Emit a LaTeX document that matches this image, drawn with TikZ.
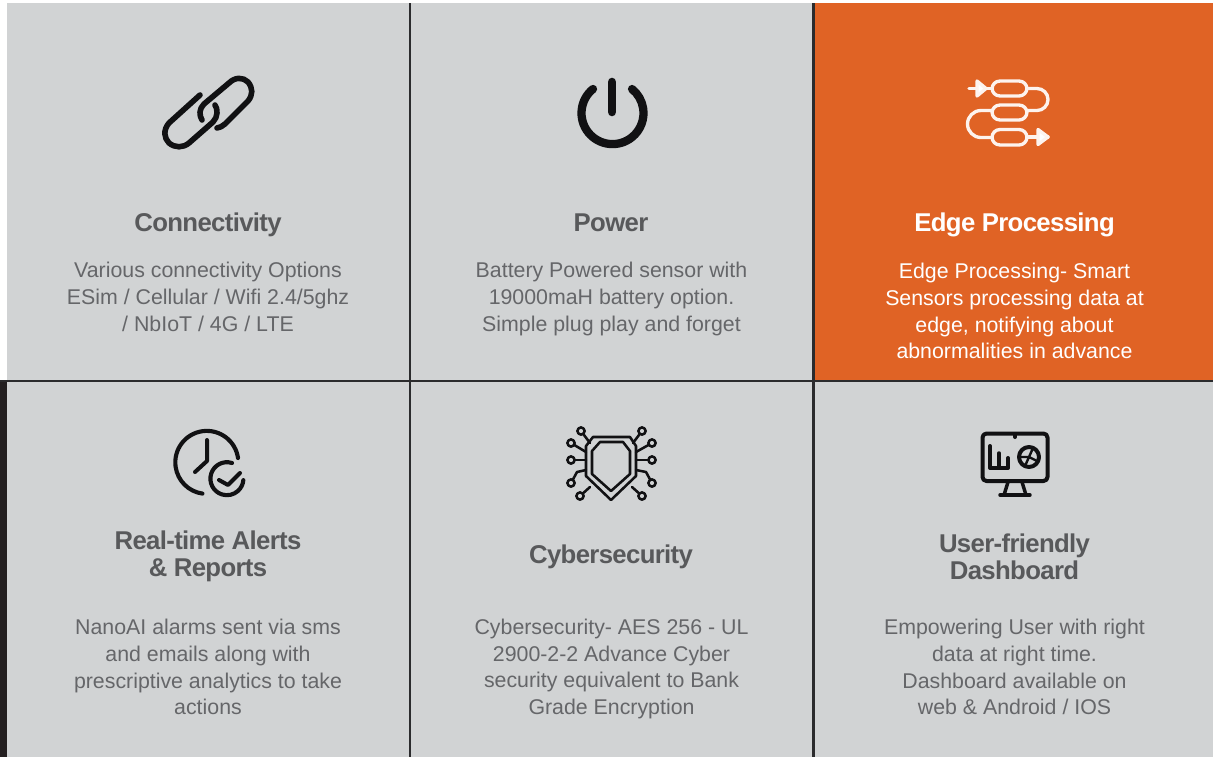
\documentclass[tikz,border=0pt]{standalone}
\usepackage{fontspec}
\setmainfont{Liberation Sans}
\newfontfamily\titlefont[LetterSpace=-2.5]{Liberation Sans Bold}
\definecolor{panel}{HTML}{D1D3D4}
\definecolor{accent}{HTML}{E06325}
\definecolor{rulecol}{HTML}{2B2B2D}
\definecolor{darkbar}{HTML}{231F20}
\definecolor{titlecol}{HTML}{58595B}
\definecolor{bodycol}{HTML}{656669}
\definecolor{iconcol}{HTML}{111113}
\tikzset{
  celltitle/.style={align=center,inner sep=0pt,font=\titlefont\fontsize{19.3}{20.25}\selectfont,text=titlecol},
  cellbody/.style={align=center,inner sep=0pt,font=\fontsize{16}{20.1}\selectfont,text=bodycol},
  iconthick/.style={draw=iconcol,line width=4.2pt,line cap=round,line join=round},
  iconmid/.style={draw=iconcol,line width=3pt,line cap=round,line join=round},
  iconthin/.style={draw=iconcol,line width=1.9pt,line cap=round,line join=round},
  iconwhite/.style={draw=white!92!accent,line width=2.5pt,line cap=round,line join=round},
  divider/.style={draw=rulecol,line width=2.2pt},
}
\begin{document}
\begin{tikzpicture}[x=0.75pt,y=-0.75pt]
\useasboundingbox (0,0) rectangle (1213,757);
\fill[white] (0,0) rectangle (1213,757);
\fill[panel] (7,3) rectangle (1213,757);
\fill[darkbar] (0,381) rectangle (7,757);
\fill[accent] (814,3) rectangle (1213,381);
\draw[divider] (410,3) -- (410,757);
\draw[divider] (813.5,3) -- (813.5,757);
\draw[divider] (0,381) -- (1213,381);

% link icon
\draw[iconthick] (200,95) -- (169,123) .. controls (163,130) and (164,138) .. (169,143) .. controls (175,148) and (183,148) .. (189,143) -- (213,122) .. controls (218,117) and (218,109) .. (215,105);
\draw[iconthick] (202,120) .. controls (199,115) and (199,109) .. (204,104) -- (229,83) .. controls (235,77) and (243,77) .. (248,82) .. controls (253,88) and (253,95) .. (248,101) -- (225,124) .. controls (222,126) and (220,128) .. (217,128);

% power icon
\draw[draw=iconcol,line width=6.2pt,line cap=round] (593,89) arc[start angle=-129,end angle=-411,radius=31];
\draw[draw=iconcol,line width=6.4pt,line cap=round] (612,82) -- (612,112);

% edge processing icon
\draw[iconwhite,rounded corners=6pt] (992,81) rectangle (1027,96);
\draw[iconwhite,rounded corners=6pt] (992,105) rectangle (1027,120);
\draw[iconwhite,rounded corners=6pt] (992,129.5) rectangle (1027,145);
\draw[iconwhite] (969,88.5) -- (992,88.5);
\draw[iconwhite,fill=white] (977,81) -- (986,88.5) -- (977,96) -- cycle;
\draw[iconwhite] (1027,88.5) -- (1037,88.5) arc[start angle=-90,end angle=90,radius=11] -- (1027,110.5);
\draw[iconwhite] (992,110.5) -- (981,110.5) arc[start angle=-90,end angle=-270,radius=13.5] -- (992,137.5);
\draw[iconwhite] (1027,137) -- (1048,137);
\draw[iconwhite,fill=white] (1038,129.5) -- (1048,137) -- (1038,144.5) -- cycle;

% clock icon
\draw[iconmid,line width=3.1pt] (238,458) arc[start angle=-8,end angle=-262,radius=31.5];
\draw[iconmid] (207,440) -- (207,461) -- (195,472);
\draw[iconmid,line width=3.1pt] (232,463) arc[start angle=-72,end angle=-355,radius=16.5];
\draw[iconmid] (219,480) -- (228,485) -- (240,473);

% shield icon
\draw[iconthin] (593,437) -- (630,437) -- (636,446) -- (636,476) -- (611,500) -- (586,476) -- (586,446) -- cycle;
\draw[iconthin] (600,442) -- (623,442) -- (630,451) -- (630,474) -- (611,491) -- (592,474) -- (592,451) -- cycle;
\foreach \ex/\ey/\tx/\ty in {581/431/590/443,642/431/633/443,571/443/586/452,652/443/636/452,571/460/586/460,652/460/636/460,580/496/590/487,642/496/632/487}{
  \draw[iconthin] (\ex,\ey) -- (\tx,\ty);
  \draw[iconthin,fill=panel] (\ex,\ey) circle[radius=3.6];
}
\draw[iconthin] (571,483) -- (577,472) -- (586,470);
\draw[iconthin,fill=panel] (571,483) circle[radius=3.6];
\draw[iconthin] (652,483) -- (646,472) -- (636,470);
\draw[iconthin,fill=panel] (652,483) circle[radius=3.6];

% dashboard icon
\draw[iconmid,line width=3pt,rounded corners=3pt] (982.5,433.5) rectangle (1047.5,481);
\draw[iconmid,line width=3pt] (1015,434) -- (1015,437);
\draw[iconmid,line width=3pt] (990,446) -- (990,468) -- (1008,468) -- (1008,458);
\draw[iconmid,line width=2.6pt] (999,453) -- (999,468);
\draw[iconmid,line width=3pt] (1029,457) circle[radius=10];
\draw[iconmid,line width=1.8pt] (1021,457) -- (1029,457) -- (1033,448) (1029,457) -- (1037,461) (1029,457) -- (1025,466);
\draw[iconmid,line width=2.6pt] (1008,482) -- (1004,495) (1022,482) -- (1026,495);
\draw[iconmid,line width=2.6pt] (1000,495) -- (1030,495);

% titles
\node[celltitle] (t1) at (208,225) {Connectivity};
\node[celltitle] (t2) at (611,223) {Power};
\node[celltitle,text=white] (t3) at (1014.5,225) {Edge Processing};
\node[celltitle] (t4) at (208,556.5) {Real-time Alerts\\\& Reports};
\node[celltitle] (t5) at (611,557) {Cybersecurity};
\node[celltitle] (t6) at (1014.5,556.5) {User-friendly\\Dashboard};

% bodies
\node[cellbody] (b1) at (208,297) {Various connectivity Options\\ESim / Cellular / Wifi 2.4/5ghz\\/ NbIoT / 4G / LTE};
\node[cellbody] (b2) at (611.5,299) {Battery Powered sensor with\\19000maH battery option.\\Simple plug play and forget};
\node[cellbody,text=white] (b3) at (1014.5,311) {Edge Processing- Smart\\Sensors processing data at\\edge, notifying about\\abnormalities in advance};
\node[cellbody] (b4) at (208,667) {NanoAI alarms sent via sms\\and emails along with\\prescriptive analytics to take\\actions};
\node[cellbody] (b5) at (611.5,669) {Cybersecurity- AES 256 - UL\\2900-2-2 Advance Cyber\\security equivalent to Bank\\Grade Encryption};
\node[cellbody] (b6) at (1014.5,667) {Empowering User with right\\data at right time.\\Dashboard available on\\web \& Android / IOS};
\end{tikzpicture}
\end{document}
